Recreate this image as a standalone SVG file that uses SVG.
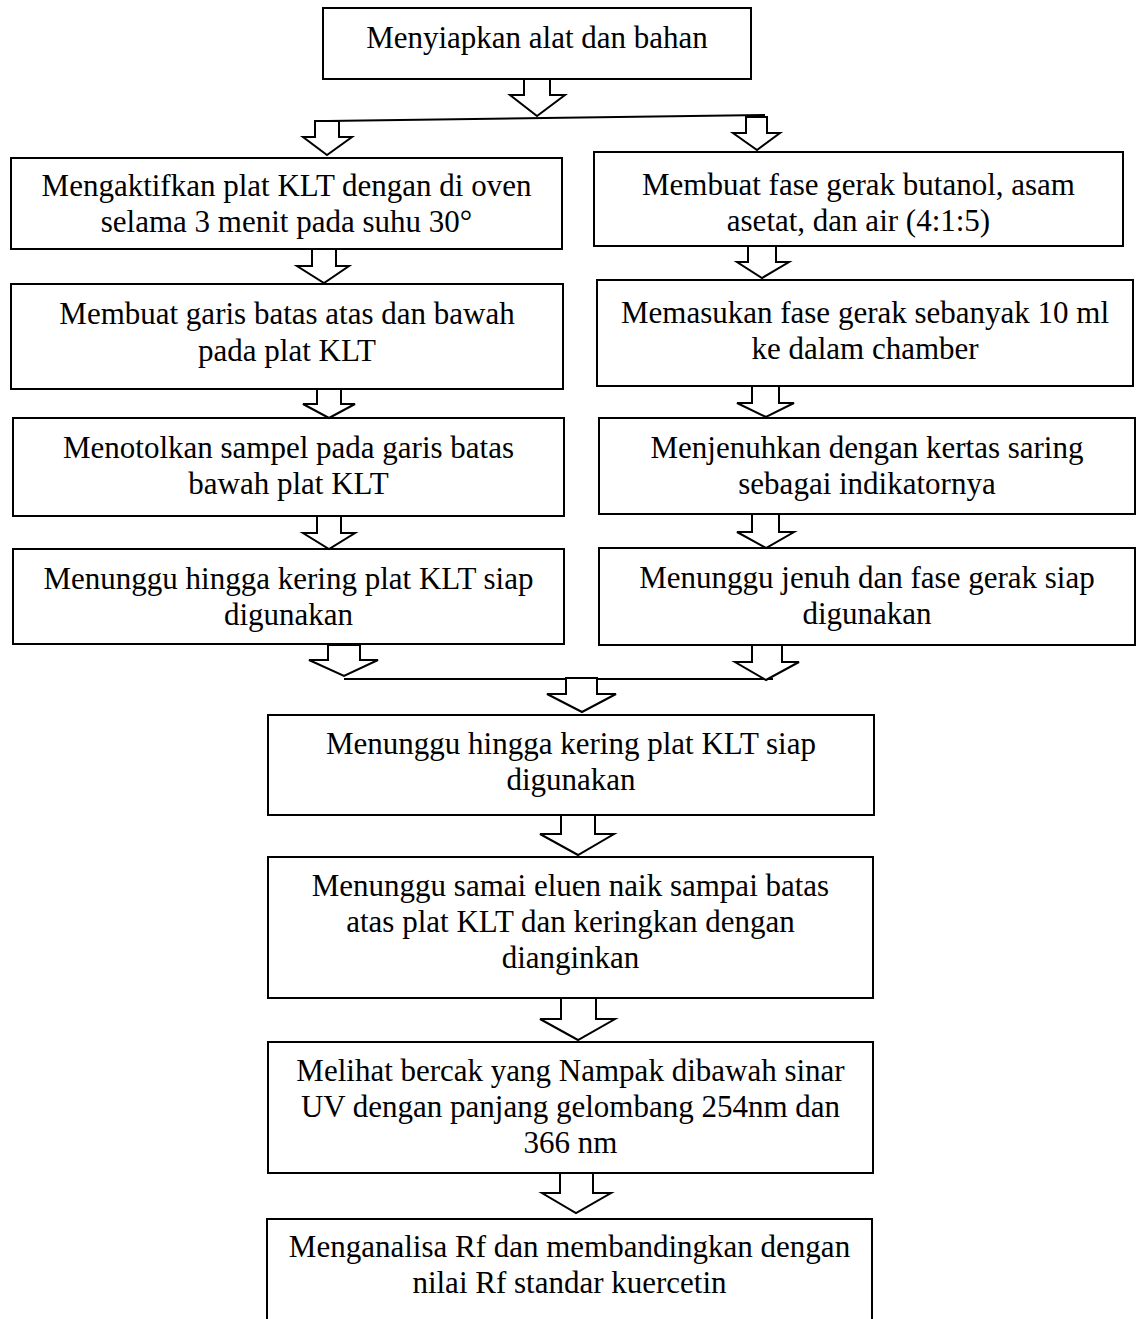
<svg xmlns="http://www.w3.org/2000/svg" width="1140" height="1319" viewBox="0 0 1140 1319">
<style>
.box{fill:#fff;stroke:#000;stroke-width:2}
.arr{fill:#fff;stroke:#000;stroke-width:2;stroke-linejoin:miter}
.ln{fill:none;stroke:#000;stroke-width:2}
text{font-family:"Liberation Serif","Times New Roman",serif;font-size:31px;fill:#000;text-anchor:middle}
</style>
<rect width="1140" height="1319" fill="#fff"/>
<g id="n0"><rect class="box" x="323" y="8" width="428" height="71"/><text x="537" y="48">Menyiapkan alat dan bahan</text></g>
<g id="nL1"><rect class="box" x="11" y="158" width="551" height="91"/><text x="286.5" y="196">Mengaktifkan plat KLT dengan di oven</text><text x="286.5" y="232">selama 3 menit pada suhu 30°</text></g>
<g id="nR1"><rect class="box" x="594" y="152" width="529" height="94"/><text x="858.5" y="195">Membuat fase gerak butanol, asam</text><text x="858.5" y="231">asetat, dan air (4:1:5)</text></g>
<g id="nL2"><rect class="box" x="11" y="284" width="552" height="105"/><text x="287" y="324">Membuat garis batas atas dan bawah</text><text x="287" y="361">pada plat KLT</text></g>
<g id="nR2"><rect class="box" x="597" y="280" width="536" height="106"/><text x="865" y="323">Memasukan fase gerak sebanyak 10 ml</text><text x="865" y="359">ke dalam chamber</text></g>
<g id="nL3"><rect class="box" x="13" y="418" width="551" height="98"/><text x="288.5" y="458">Menotolkan sampel pada garis batas</text><text x="288.5" y="494">bawah plat KLT</text></g>
<g id="nR3"><rect class="box" x="599" y="418" width="536" height="96"/><text x="867" y="458">Menjenuhkan dengan kertas saring</text><text x="867" y="494">sebagai indikatornya</text></g>
<g id="nL4"><rect class="box" x="13" y="549" width="551" height="95"/><text x="288.5" y="589">Menunggu hingga kering plat KLT siap</text><text x="288.5" y="625">digunakan</text></g>
<g id="nR4"><rect class="box" x="599" y="548" width="536" height="97"/><text x="867" y="588">Menunggu jenuh dan fase gerak siap</text><text x="867" y="624">digunakan</text></g>
<g id="n5"><rect class="box" x="268" y="715" width="606" height="100"/><text x="571" y="754">Menunggu hingga kering plat KLT siap</text><text x="571" y="790">digunakan</text></g>
<g id="n6"><rect class="box" x="268" y="857" width="605" height="141"/><text x="570.5" y="896">Menunggu samai eluen naik sampai batas</text><text x="570.5" y="932">atas plat KLT dan keringkan dengan</text><text x="570.5" y="968">dianginkan</text></g>
<g id="n7"><rect class="box" x="268" y="1042" width="605" height="131"/><text x="570.5" y="1081">Melihat bercak yang Nampak dibawah sinar</text><text x="570.5" y="1117">UV dengan panjang gelombang 254nm dan</text><text x="570.5" y="1153">366 nm</text></g>
<g id="n8"><rect class="box" x="267" y="1219" width="605" height="120"/><text x="569.5" y="1257">Menganalisa Rf dan membandingkan dengan</text><text x="569.5" y="1293">nilai Rf standar kuercetin</text></g>
<g id="connectors">
<polyline class="ln" points="327,121 765,115"/>
<polyline class="ln" points="344,679 773,679"/>
<polygon class="arr" points="524,79 550,79 550,95 565,95 537,116 510,95 524,95"/>
<polygon class="arr" points="315,121 339,121 339,137 352,137 327,155 303,137 315,137"/>
<polygon class="arr" points="746,117 767,117 767,133 780,133 757,150 733,133 746,133"/>
<polygon class="arr" points="312,249 336,249 336,266 349,266 324,283 297,266 312,266"/>
<polygon class="arr" points="748,246 776,246 776,262 789,262 762,278 737,262 748,262"/>
<polygon class="arr" points="317,389 341,389 341,404 355,404 329,418 303,404 317,404"/>
<polygon class="arr" points="752,386 779,386 779,403 794,403 766,417 737,403 752,403"/>
<polygon class="arr" points="317,516 341,516 341,533 355,533 329,549 303,533 317,533"/>
<polygon class="arr" points="752,514 779,514 779,532 794,532 766,548 737,532 752,532"/>
<polygon class="arr" points="328,645 360,645 360,660 378,660 344,676 309,660 328,660"/>
<polygon class="arr" points="752,645 782,645 782,662 799,662 766,680 735,662 752,662"/>
<polygon class="arr" points="566,678 597,678 597,694 616,694 582,712 547,694 566,694"/>
<polygon class="arr" points="561,815 595,815 595,834 614,834 578,855 540,834 561,834"/>
<polygon class="arr" points="561,998 596,998 596,1019 615,1019 578,1040 540,1019 561,1019"/>
<polygon class="arr" points="560,1173 593,1173 593,1193 611,1193 576,1213 542,1193 560,1193"/>
</g>
</svg>
